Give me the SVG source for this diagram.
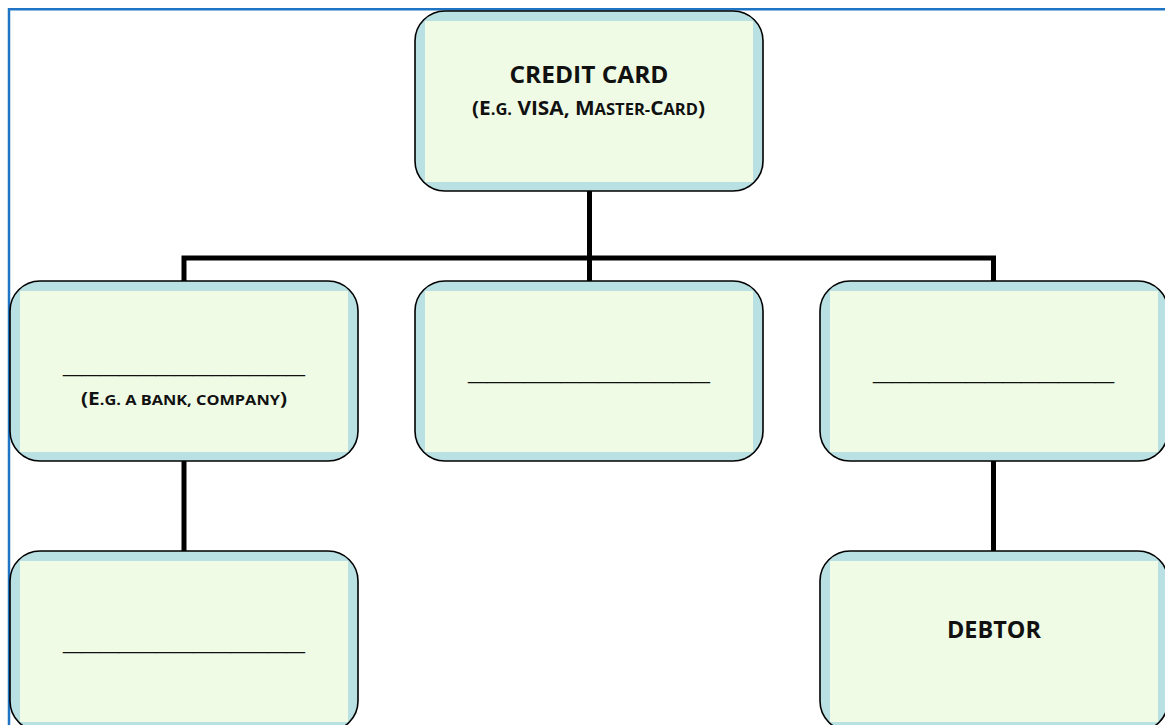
<svg xmlns="http://www.w3.org/2000/svg" width="1165" height="725" viewBox="0 0 1165 725">
<style>
.band{fill:#B9E0E3}
.inner{fill:#EFFBE5}
.outline{fill:none;stroke:#000;stroke-width:1.6}
.t{font-family:"Open Sans","Liberation Sans",sans-serif;font-weight:bold;fill:#111;text-anchor:middle}
.u{font-family:"Liberation Sans",sans-serif;font-weight:bold;font-size:26px;fill:#111;text-anchor:start}
.conn{fill:none;stroke:#000;stroke-width:5;stroke-linecap:butt;stroke-linejoin:miter}
</style>
<defs>
<clipPath id="c1"><rect x="415" y="11" width="348" height="180" rx="30"/></clipPath>
<clipPath id="c2"><rect x="10" y="281" width="348" height="180" rx="30"/></clipPath>
<clipPath id="c3"><rect x="415" y="281" width="348" height="180" rx="30"/></clipPath>
<clipPath id="c4"><rect x="820" y="281" width="348" height="180" rx="30"/></clipPath>
<clipPath id="c5"><rect x="10" y="551" width="348" height="180" rx="30"/></clipPath>
<clipPath id="c6"><rect x="820" y="551" width="348" height="180" rx="30"/></clipPath>
</defs>
<rect width="1165" height="725" fill="#fff"/>
<g id="frame">
<line x1="8" y1="9.2" x2="1165" y2="9.2" stroke="#1F74C4" stroke-width="2.5"/>
<line x1="9" y1="8" x2="9" y2="725" stroke="#1F74C4" stroke-width="2.5"/>
</g>
<g id="connectors">
<line class="conn" x1="589.5" y1="191" x2="589.5" y2="281"/>
<polyline class="conn" points="184,281 184,258 993.5,258 993.5,281"/>
<line class="conn" x1="184" y1="461" x2="184" y2="551"/>
<line class="conn" x1="993.5" y1="461" x2="993.5" y2="551"/>
</g>
<g id="node-credit-card">
<rect class="band" x="415" y="11" width="348" height="180" rx="30"/>
<rect class="inner" x="425" y="21" width="328" height="161" clip-path="url(#c1)"/>
<rect class="outline" x="415" y="11" width="348" height="180" rx="30"/>
<text class="t" x="589" y="83" font-size="24" textLength="159" lengthAdjust="spacingAndGlyphs">CREDIT CARD</text>
<text class="t" x="588.5" y="115" font-size="19.5" textLength="233" lengthAdjust="spacingAndGlyphs">(E<tspan font-size="15.5">.G.</tspan> VISA, M<tspan font-size="15.5">ASTER-</tspan>C<tspan font-size="15.5">ARD</tspan>)</text>
</g>
<g id="node-issuer">
<rect class="band" x="10" y="281" width="348" height="180" rx="30"/>
<rect class="inner" x="20" y="291" width="328" height="161" clip-path="url(#c2)"/>
<rect class="outline" x="10" y="281" width="348" height="180" rx="30"/>
<text class="u" transform="translate(63,371.7) scale(1,1.25)" textLength="242" lengthAdjust="spacingAndGlyphs">_____________</text>
<text class="t" x="184" y="405" font-size="18.5" textLength="206" lengthAdjust="spacingAndGlyphs">(E<tspan font-size="14.5">.G. A BANK, COMPANY</tspan>)</text>
</g>
<g id="node-middle">
<rect class="band" x="415" y="281" width="348" height="180" rx="30"/>
<rect class="inner" x="425" y="291" width="328" height="161" clip-path="url(#c3)"/>
<rect class="outline" x="415" y="281" width="348" height="180" rx="30"/>
<text class="u" transform="translate(468,379.4) scale(1,1.25)" textLength="242" lengthAdjust="spacingAndGlyphs">_____________</text>
</g>
<g id="node-right">
<rect class="band" x="820" y="281" width="348" height="180" rx="30"/>
<rect class="inner" x="830" y="291" width="328" height="161" clip-path="url(#c4)"/>
<rect class="outline" x="820" y="281" width="348" height="180" rx="30"/>
<text class="u" transform="translate(873,379.4) scale(1,1.25)" textLength="241" lengthAdjust="spacingAndGlyphs">_____________</text>
</g>
<g id="node-bottom-left">
<rect class="band" x="10" y="551" width="348" height="180" rx="30"/>
<rect class="inner" x="20" y="561" width="328" height="161" clip-path="url(#c5)"/>
<rect class="outline" x="10" y="551" width="348" height="180" rx="30"/>
<text class="u" transform="translate(63,649.4) scale(1,1.25)" textLength="242" lengthAdjust="spacingAndGlyphs">_____________</text>
</g>
<g id="node-debtor">
<rect class="band" x="820" y="551" width="348" height="180" rx="30"/>
<rect class="inner" x="830" y="561" width="328" height="161" clip-path="url(#c6)"/>
<rect class="outline" x="820" y="551" width="348" height="180" rx="30"/>
<text class="t" x="994" y="638" font-size="22.5" textLength="94" lengthAdjust="spacingAndGlyphs">DEBTOR</text>
</g>
</svg>
